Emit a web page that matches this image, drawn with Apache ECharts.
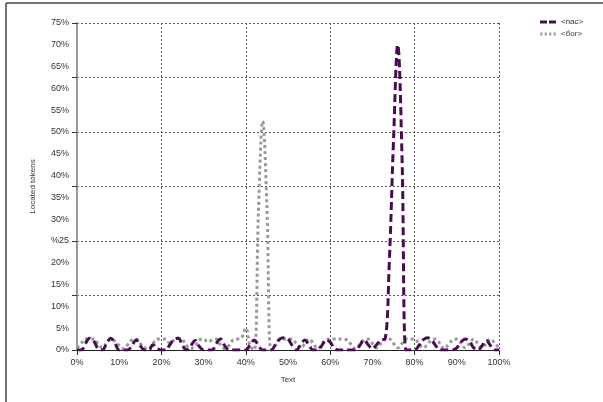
<!DOCTYPE html>
<html>
<head>
<meta charset="utf-8">
<script src="https://cdn.jsdelivr.net/npm/echarts@6/dist/echarts.min.js"></script>
<style>html,body{margin:0;padding:0;background:#fff;}#c{width:603px;height:402px;}</style>
</head>
<body>
<div id="c"></div>
<script>
var seriesNames = ['<пас>', '<бог>'];
var xPercent = [];
for (var i = 0; i <= 100; i++) xPercent.push(i);
var pasValues = [0,0,1.5,2.7,2,0.3,0,1.5,2.7,1.5,
  0,0,0,1,2.3,1,0,0,1.2,0.3,
  0,0,1.2,2.5,2.7,1,0,1,2.2,0.8,
  0,0,0,1.5,2.5,1,0,0,0,0,
  0,1.2,2.3,1,0,0,0,1.2,2.5,2.8,
  2.5,1,0,1.2,2.3,1,0,0,1,2.3,
  1.8,0.3,0,0,0,0,0,1,2.3,1.2,
  0.3,1.2,2.3,2.5,20,48,70,45,0,0,
  0,1,2.3,2.8,2.3,1,0,0,0,0,
  0.5,1.8,2.5,2,0.5,0,1,2.2,1,0,0];
var bogValues = [0.5,1.5,2.5,2.5,2.5,1.5,0.5,1.5,2.5,2,
  1,0.3,1.2,2.3,2.5,1.5,0.5,0.3,1.5,2.5,
  2.5,2.5,1.5,2.3,2.7,2.3,1,0.3,1,2.3,
  2.5,1.8,2.3,2.5,1.2,0.3,1,2.3,2.5,2.8,
  5,1,0,32,52.5,33,0,1,2.3,2.5,
  2.5,2.5,1.5,0.5,1.5,2.5,1.5,0.3,1.2,2.3,
  2.5,2.5,2.5,2.5,2.3,1.2,0.3,1.2,2.3,2.5,
  1.5,0.5,1.5,2.5,2.5,1.5,0.5,1.5,2.5,2.5,
  2.5,1.5,0.5,1.2,2.3,2.5,1.5,0.3,1.2,2.3,
  2.5,1.5,0.5,1.5,2.5,1.5,0.5,1.5,2.5,1.5,0.5];
var yLabelStep = 5, yGridStep = 12.5, yMax = 75;
var xLabelStep = 10, xGridStep = 20, xMax = 100;

function pairs(ys){ return xPercent.map(function(x,i){ return [x, ys[i]]; }); }

var chart = echarts.init(document.getElementById('c'), null, {renderer:'canvas'});
var font = 'Liberation Sans';
chart.setOption({
  animation: false,
  backgroundColor: '#fff',
  textStyle: {fontFamily: font},
  grid: {left: 77, right: 104, top: 23, bottom: 52, containLabel: false},
  legend: {
    orient: 'vertical', left: 540, top: 17, itemWidth: 16, itemHeight: 3, itemGap: 2,
    padding: 0,
    textStyle: {fontSize: 8, color: '#333', fontFamily: font, lineHeight: 10},
    data: [
      {name: seriesNames[0], icon: 'path://M0,0h7v3h-7z M9,0h7v3h-7z'},
      {name: seriesNames[1], icon: 'path://M0,0h2v3h-2z M4.5,0h2v3h-2z M9,0h2v3h-2z M13.5,0h2v3h-2z'}
    ]
  },
  graphic: [
    {type:'line', shape:{x1:6, y1:3, x2:603, y2:3}, style:{stroke:'#444', lineWidth:1.5}, silent:true},
    {type:'line', shape:{x1:6, y1:3, x2:6, y2:402}, style:{stroke:'#444', lineWidth:1.5}, silent:true}
  ],
  xAxis: [
    {type:'value', min:0, max:xMax, interval:xLabelStep,
     name:'Text', nameLocation:'middle', nameGap:26,
     nameTextStyle:{fontSize:8, color:'#333', fontFamily:font},
     axisLine:{show:true, lineStyle:{color:'#222', width:1.2}},
     axisTick:{show:false},
     axisLabel:{fontSize:9, color:'#333', margin:8, formatter:'{value}%', fontFamily:font},
     splitLine:{show:false}},
    {type:'value', min:0, max:xMax, interval:xGridStep, position:'bottom',
     axisLine:{show:false}, axisLabel:{show:false},
     axisTick:{show:true, length:5, lineStyle:{color:'#333'}},
     splitLine:{show:true, lineStyle:{color:'#555', type:[2,2], width:1}}}
  ],
  yAxis: [
    {type:'value', min:0, max:yMax, interval:yLabelStep,
     name:'Located tokens', nameLocation:'middle', nameGap:40,
     nameTextStyle:{fontSize:8, color:'#333', fontFamily:font},
     axisLine:{show:true, lineStyle:{color:'#999', width:2}},
     axisTick:{show:false},
     axisLabel:{fontSize:9, color:'#333', margin:8, fontFamily:font,
       formatter:function(v){ return v === 25 ? '%25' : v + '%'; }},
     splitLine:{show:false}},
    {type:'value', min:0, max:yMax, interval:yGridStep, position:'left',
     axisLine:{show:false}, axisLabel:{show:false},
     axisTick:{show:true, length:5, lineStyle:{color:'#333'}},
     splitLine:{show:true, lineStyle:{color:'#555', type:[2,2], width:1}}}
  ],
  series: [
    {name: seriesNames[0], type:'line', xAxisIndex:0, yAxisIndex:0, smooth:0.4,
     symbol:'none', data: pairs(pasValues), clip:true, z:3,
     itemStyle:{color:'#4b0b52'},
     lineStyle:{color:'#4b0b52', width:3, type:[8,4]}},
    {name: seriesNames[1], type:'line', xAxisIndex:0, yAxisIndex:0, smooth:0.4,
     symbol:'none', data: pairs(bogValues), clip:true, z:2,
     itemStyle:{color:'#999999'},
     lineStyle:{color:'#999999', width:3, type:[3,3]}}
  ]
});
</script>
</body>
</html>
